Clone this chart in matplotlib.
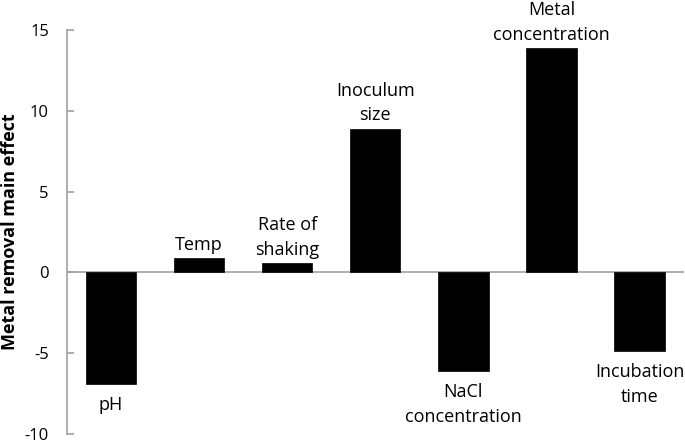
import matplotlib.pyplot as plt
import numpy as np

# 各因素的主效应
factors = ['pH', 'Temp', 'Rate of\nshaking', 'Inoculum\nsize', 'NaCl\nconcentration',
           'Metal\nconcentration', 'Incubation\ntime']
effects = [-6.9, 0.9, 0.6, 8.9, -6.1, 13.9, -4.85]
y_ticks = [-10, -5, 0, 5, 10, 15]

plt.rcParams['font.family'] = ['Open Sans', 'DejaVu Sans']
plt.rcParams['axes.unicode_minus'] = False

fig = plt.figure(figsize=(6.85, 4.41), dpi=100)
ax = fig.add_axes([0.0978, 0.0159, 0.9002, 0.9161])

x = np.arange(len(factors))
bars = ax.bar(x, effects, width=0.57, color='black', edgecolor='black', linewidth=0.5, zorder=3)

# 零线
ax.axhline(0, color='#a0a0a0', linewidth=1.2, zorder=2)

ax.set_xlim(-0.5, len(factors) - 0.5)
ax.set_ylim(-10, 15)
ax.set_yticks(y_ticks)
ax.set_xticks([])
ax.tick_params(axis='y', direction='in', length=5, width=1.2, color='#a0a0a0',
               labelsize=12, pad=13)
for s in ['top', 'right', 'bottom']:
    ax.spines[s].set_visible(False)
ax.spines['left'].set_color('#a0a0a0')
ax.spines['left'].set_linewidth(1.2)

ax.set_ylabel('Metal removal main effect', fontsize=13, fontweight='bold')
ax.yaxis.set_label_coords(-0.078, 0.5)

# 柱子上的标签
for xi, v, name in zip(x, effects, factors):
    if v >= 0:
        ax.annotate(name, (xi, v), xytext=(0, 3), textcoords='offset points',
                    ha='center', va='bottom', fontsize=13, linespacing=1.45)
    else:
        ax.annotate(name, (xi, v), xytext=(0, -9), textcoords='offset points',
                    ha='center', va='top', fontsize=13, linespacing=1.45)

plt.savefig('out.png', dpi=100)
